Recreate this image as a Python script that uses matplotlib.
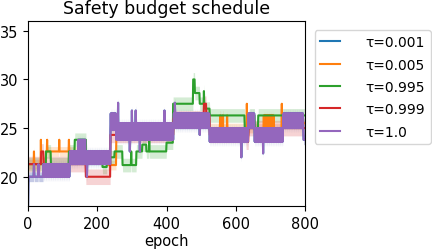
import numpy as np
import matplotlib
matplotlib.use("Agg")
import matplotlib.pyplot as plt

epochs = np.arange(0, 801)
x_ticks = [0, 200, 400, 600, 800]
y_ticks = [20, 25, 30, 35]

# (start, end, low, high) - value alternates between low/high each epoch
purple_segments = [
    (0, 1, 17.0, 17.0),
    (1, 43, 20.0, 20.0),
    (43, 120, 20.0, 21.3),
    (120, 144, 21.3, 22.6),
    (144, 167, 21.3, 23.8),
    (167, 238, 21.3, 22.6),
    (238, 255, 24.8, 26.5),
    (255, 420, 23.8, 25.5),
    (420, 525, 25.0, 26.5),
    (525, 636, 23.6, 25.0),
    (636, 655, 25.0, 26.5),
    (655, 737, 23.6, 25.0),
    (737, 796, 25.0, 26.5),
    (796, 801, 23.8, 23.8),
]
purple_spikes = [(17, 21.3), (30, 21.3), (170, 20.0), (260, 27.6), (294, 22.6),
                 (300, 26.8), (311, 26.8), (323, 22.6), (394, 26.8), (424, 27.6),
                 (496, 24.3), (616, 22.0), (679, 22.4)]

blue_segments = purple_segments
blue_spikes = purple_spikes

orange_segments = [
    (0, 52, 21.3, 21.3),
    (52, 165, 22.6, 22.6),
    (165, 230, 21.8, 21.8),
    (230, 255, 21.2, 21.2),
    (255, 420, 24.3, 24.3),
    (420, 525, 26.0, 26.0),
    (525, 680, 25.0, 25.0),
    (680, 710, 25.0, 26.3),
    (710, 737, 25.0, 25.0),
    (737, 801, 25.5, 25.5),
]
orange_spikes = [(17, 22.6), (37, 23.8), (55, 23.8), (90, 23.8), (118, 23.8),
                 (555, 26.3), (556, 26.3), (562, 26.3), (563, 26.3), (575, 26.3),
                 (632, 27.5), (733, 27.5)]

green_segments = [
    (0, 52, 21.3, 21.3),
    (52, 66, 22.6, 22.6),
    (66, 118, 21.3, 21.3),
    (118, 135, 22.6, 22.6),
    (135, 168, 23.8, 23.8),
    (168, 215, 22.0, 22.0),
    (215, 228, 21.0, 21.0),
    (228, 250, 22.0, 22.0),
    (250, 273, 22.6, 22.6),
    (273, 313, 21.2, 21.2),
    (313, 330, 22.6, 22.6),
    (330, 342, 23.3, 23.3),
    (342, 400, 22.6, 22.6),
    (400, 419, 23.5, 23.5),
    (419, 477, 27.5, 27.5),
    (477, 482, 30.0, 30.0),
    (482, 496, 28.6, 28.6),
    (496, 510, 27.5, 27.5),
    (510, 525, 27.0, 27.0),
    (525, 626, 26.3, 26.3),
    (626, 640, 25.0, 25.0),
    (640, 655, 26.3, 26.3),
    (655, 665, 25.0, 25.0),
    (665, 801, 26.3, 26.3),
]
green_spikes = [(298, 22.6), (350, 23.8), (508, 28.8)]

red_segments = [
    (0, 38, 21.3, 21.3),
    (38, 45, 22.6, 22.6),
    (45, 167, 21.3, 21.3),
    (167, 238, 20.0, 20.0),
    (238, 420, 24.3, 24.3),
    (420, 508, 26.0, 26.0),
    (508, 515, 27.5, 27.5),
    (515, 525, 26.3, 26.3),
    (525, 630, 24.3, 24.3),
    (630, 637, 23.6, 23.6),
    (637, 801, 25.0, 25.0),
]
red_spikes = []

series_names = ["τ=0.001", "τ=0.005", "τ=0.995", "τ=0.999", "τ=1.0"]
series_colors = ["#1f77b4", "#ff7f0e", "#2ca02c", "#d62728", "#9467bd"]
series_std = [0.5, 0.5, 0.7, 0.8, 0.5]


def build(segments, spikes):
    y = np.zeros(len(epochs))
    for s, e, lo, hi in segments:
        idx = (epochs >= s) & (epochs < e)
        alt = (epochs[idx] - s) % 2
        y[idx] = np.where(alt == 0, lo, hi)
    for ep, v in spikes:
        y[ep] = v
    return y


series_data = [
    build(blue_segments, blue_spikes),
    build(orange_segments, orange_spikes),
    build(green_segments, green_spikes),
    build(red_segments, red_spikes),
    build(purple_segments, purple_spikes),
]

fig = plt.figure(figsize=(4.32, 2.53), dpi=100)
ax = fig.add_axes([0.065, 0.182, 0.641, 0.731])

for y, name, c, sd in zip(series_data, series_names, series_colors, series_std):
    ax.fill_between(epochs, y - sd, y + sd, color=c, alpha=0.2, linewidth=0)
    ax.plot(epochs, y, color=c, label=name, linewidth=1.5)

ax.set_xlim(0, 800)
ax.set_ylim(17, 36)
ax.set_xticks(x_ticks)
ax.set_yticks(y_ticks)
ax.tick_params(labelsize=10.5)
ax.set_xlabel("epoch", fontsize=10.5, labelpad=2)
ax.set_title("Safety budget schedule", fontsize=12.5)
ax.legend(loc="upper left", bbox_to_anchor=(1.01, 0.99), fontsize=10,
          handlelength=1.45, handletextpad=1.8, labelspacing=0.6)

fig.savefig("out.png", dpi=100)
